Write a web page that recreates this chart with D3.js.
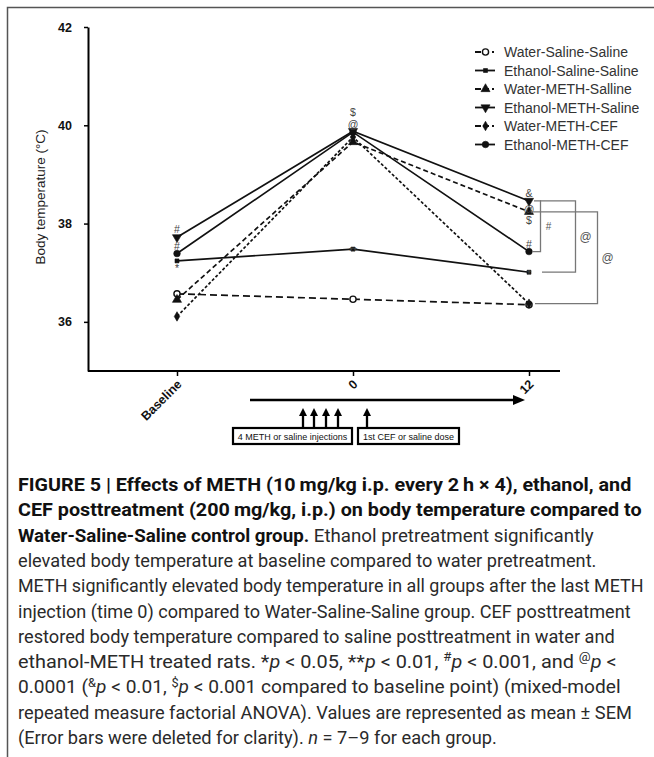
<html>
<head><meta charset="utf-8"></head>
<style>
  html, body { margin: 0; background: #fff; }
  svg { display: block; }
</style>
<body>
<div id="content"></div>
<script src="https://cdnjs.cloudflare.com/ajax/libs/d3/7.8.5/d3.min.js"></script>
<script>
  // time points on the x axis
  let times = ['Baseline', '0', '12'];

  // series names (legend order)
  let seriesNames = ['Water-Saline-Saline', 'Ethanol-Saline-Saline', 'Water-METH-Salline',
                     'Ethanol-METH-Saline', 'Water-METH-CEF', 'Ethanol-METH-CEF'];

  // body temperature (deg C) per time point
  let waterSalineSaline   = [36.57, 36.46, 36.35];
  let ethanolSalineSaline = [37.24, 37.48, 37.01];
  let waterMethSaline     = [36.45, 39.66, 38.24];
  let ethanolMethSaline   = [37.72, 39.88, 38.46];
  let waterMethCef        = [36.11, 39.76, 36.37];
  let ethanolMethCef      = [37.39, 39.86, 37.43];

  let yTicks = [36, 38, 40, 42];

  // significance marks: [time index, series index, label, where]
  let marks = [
    [0, 3, '#', 'above'], [0, 5, '#', 'above'], [0, 1, '*', 'below'],
    [1, 5, '@', 'above'], [1, 5, '$', 'above2'], [1, 1, '**', 'above'],
    [2, 3, '&', 'above'], [2, 2, '@', 'on'], [2, 2, '$', 'below'],
    [2, 5, '#', 'above'], [2, 1, '*', 'above']
  ];

  // brackets at the last time point: [series a, series b, label]
  let brackets = [[3, 5, '#'], [3, 1, '@'], [2, 4, '@']];

  let series = [waterSalineSaline, ethanolSalineSaline, waterMethSaline,
                ethanolMethSaline, waterMethCef, ethanolMethCef];

  // line/marker styles per series
  let dashes  = ['7,4', null, '5,3', null, '3,2', null];
  let symbols = [d3.symbolCircle, d3.symbolSquare, d3.symbolTriangle,
                 d3.symbolTriangle, d3.symbolDiamond, d3.symbolCircle];
  let symSize = [30, 16, 36, 36, 26, 34];

  let sans = '"Liberation Sans", Arial, Helvetica, sans-serif';

  let svg = d3.select('#content').append('svg')
      .attr('width', 654).attr('height', 757)
      .attr('font-family', sans);

  // frame (top and left edge of the figure panel)
  svg.append('path').attr('d', 'M7.5,757V7.5H654')
      .attr('fill', 'none').attr('stroke', '#555').attr('stroke-width', 1.5);

  let x = d3.scalePoint().domain(times).range([177, 529]);
  let y = d3.scaleLinear().domain([35, 42]).range([371, 27]);

  // y axis
  let yAxis = svg.append('g').attr('transform', 'translate(88,0)')
      .call(d3.axisLeft(y).tickValues(yTicks).tickFormat(d3.format('d'))
        .tickSize(4).tickSizeOuter(0).tickPadding(12));
  yAxis.attr('font-family', sans);
  yAxis.select('.domain').attr('stroke-width', 2);
  yAxis.selectAll('.tick line').attr('stroke-width', 1.5);
  yAxis.selectAll('text').attr('font-size', 12.5).attr('font-weight', 'bold').attr('fill', '#111');

  // x axis
  let xAxis = svg.append('g').attr('transform', 'translate(0,371)')
      .call(d3.axisBottom(x).tickSize(5).tickSizeOuter(0));
  xAxis.attr('font-family', sans);
  xAxis.select('.domain').attr('d', 'M88,0H560').attr('stroke-width', 2);
  xAxis.selectAll('.tick line').attr('stroke-width', 1.5);
  xAxis.selectAll('text')
      .attr('font-size', 12.5).attr('font-weight', 'bold').attr('fill', '#111')
      .attr('text-anchor', 'end')
      .attr('dy', null).attr('y', 0)
      .attr('transform', 'translate(5,14) rotate(-45)');

  // y axis title
  svg.append('text')
      .attr('transform', 'translate(45,197) rotate(-90)')
      .attr('text-anchor', 'middle')
      .attr('font-size', 13.5).attr('fill', '#222')
      .text('Body temperature (°C)');

  // lines
  let line = d3.line().x((d, i) => x(times[i])).y(d => y(d));
  series.forEach((s, k) => {
    svg.append('path').datum(s)
        .attr('d', line)
        .attr('fill', 'none').attr('stroke', '#111').attr('stroke-width', 1.7)
        .attr('stroke-dasharray', dashes[k]);
  });

  // markers
  function marker(g, k, cx, cy) {
    let rot = k === 3 ? 180 : 0;
    g.append('path')
        .attr('d', d3.symbol().type(symbols[k]).size(symSize[k])())
        .attr('transform', `translate(${cx},${cy}) rotate(${rot})`)
        .attr('fill', k === 0 ? '#fff' : '#111')
        .attr('stroke', '#111').attr('stroke-width', k === 0 ? 1.4 : 0.6);
  }
  series.forEach((s, k) => {
    s.forEach((v, i) => marker(svg, k, x(times[i]), y(v)));
  });

  // significance marks
  let off = {above: -4, above2: -16, on: 1, below: 12};
  marks.forEach(m => {
    let [ti, si, lab, pos] = m;
    let dy = off[pos];
    if (lab.indexOf('*') >= 0) dy += (pos === 'below' ? -1 : 10);
    svg.append('text')
        .attr('x', x(times[ti])).attr('y', y(series[si][ti]) + dy)
        .attr('text-anchor', 'middle').attr('font-size', 10.5).attr('fill', '#444')
        .text(lab);
  });

  // brackets
  let bx = [540.5, 575.5, 597.5];
  let bStart = [[534, 533], [540, 542], [531, 535]];
  brackets.forEach((b, j) => {
    let ya = y(series[b[0]][2]), yb = y(series[b[1]][2]);
    svg.append('path')
        .attr('d', `M${bStart[j][0]},${ya}H${bx[j]}V${yb}H${bStart[j][1]}`)
        .attr('fill', 'none').attr('stroke', '#777').attr('stroke-width', 1.3);
    svg.append('text')
        .attr('x', bx[j] + (j === 0 ? 8 : 10)).attr('y', (ya + yb) / 2 + 4)
        .attr('text-anchor', 'middle').attr('font-size', j === 0 ? 10 : 12).attr('fill', '#555')
        .text(b[2]);
  });

  // legend
  let legend = svg.append('g');
  seriesNames.forEach((name, k) => {
    let ly = 52 + k * 18.5;
    legend.append('line')
        .attr('x1', 475).attr('x2', 495).attr('y1', ly).attr('y2', ly)
        .attr('stroke', '#111').attr('stroke-width', 1.8)
        .attr('stroke-dasharray', dashes[k] ? '6,2,6,3,2' : null);
    marker(legend, k, 485.5, ly);
    legend.append('text')
        .attr('x', 504).attr('y', ly + 5)
        .attr('font-size', 14).attr('fill', '#333')
        .text(name);
  });

  // timeline under the x axis
  let tl = svg.append('g');
  tl.append('line').attr('x1', 250).attr('x2', 515).attr('y1', 400).attr('y2', 400)
      .attr('stroke', '#000').attr('stroke-width', 2.5);
  tl.append('path').attr('d', 'M513,395L525,400L513,405Z').attr('fill', '#000');
  [303, 314, 326, 338, 367].forEach(ax => {
    tl.append('line').attr('x1', ax).attr('x2', ax).attr('y1', 428).attr('y2', 414)
        .attr('stroke', '#000').attr('stroke-width', 2.3);
    tl.append('path').attr('d', `M${ax - 4},416L${ax},408L${ax + 4},416Z`).attr('fill', '#000');
  });
  [[233, 352, '4 METH or saline injections'], [358, 459, '1st CEF or saline dose']].forEach(bx => {
    tl.append('rect').attr('x', bx[0]).attr('y', 428).attr('width', bx[1] - bx[0]).attr('height', 16)
        .attr('fill', '#fff').attr('stroke', '#000').attr('stroke-width', 2.2);
    tl.append('text').attr('x', (bx[0] + bx[1]) / 2).attr('y', 439.5)
        .attr('text-anchor', 'middle').attr('font-size', 9).attr('fill', '#111')
        .text(bx[2]);
  });

  // caption: each line is a list of [text, style]
  let captionLines = [
    [['FIGURE 5 | Effects of METH (10\u2009mg/kg i.p. every 2\u2009h \u00d7 4), ethanol, and', 'b']],
    [['CEF posttreatment (200\u2009mg/kg, i.p.) on body temperature compared to', 'b']],
    [['Water-Saline-Saline control group.', 'b'], [' Ethanol pretreatment significantly', 'r']],
    [['elevated body temperature at baseline compared to water pretreatment.', 'r']],
    [['METH significantly elevated body temperature in all groups after the last METH', 'r']],
    [['injection (time 0) compared to Water-Saline-Saline group. CEF posttreatment', 'r']],
    [['restored body temperature compared to saline posttreatment in water and', 'r']],
    [['ethanol-METH treated rats. *', 'r'], ['p', 'i'], [' < 0.05, **', 'r'], ['p', 'i'],
     [' < 0.01, ', 'r'], ['#', 's'], ['p', 'i'], [' < 0.001, and ', 'r'], ['@', 's'], ['p', 'i'], [' <', 'r']],
    [['0.0001 (', 'r'], ['&', 's'], ['p', 'i'], [' < 0.01, ', 'r'], ['$', 's'], ['p', 'i'],
     [' < 0.001 compared to baseline point) (mixed-model', 'r']],
    [['repeated measure factorial ANOVA). Values are represented as mean \u00b1 SEM', 'r']],
    [['(Error bars were deleted for clarity). ', 'r'], ['n', 'i'], [' = 7\u20139 for each group.', 'r']]
  ];
  let captionWidths = [614, 624, 576, 579, 626, 613, 597, 599, 603, 614, 479];

  // draw at natural width, then squeeze horizontally to the line width of the figure
  captionLines.forEach((segs, i) => {
    let t = svg.append('text')
        .attr('x', 0).attr('y', 0)
        .attr('font-family', 'Roboto, "Liberation Sans", sans-serif')
        .attr('font-size', 18).attr('fill', '#2a2a2a');
    segs.forEach(sg => {
      let ts = t.append('tspan').text(sg[0]);
      if (sg[1] === 'b') ts.attr('font-weight', 'bold').attr('fill', '#111');
      if (sg[1] === 'i') ts.attr('font-style', 'italic');
      if (sg[1] === 's') ts.attr('font-size', 12).attr('baseline-shift', 'super');
    });
    let w = t.node().getComputedTextLength();
    let sx = captionWidths[i] / w;
    t.attr('transform', `translate(18,${491 + i * 25.3}) scale(${sx},1)`);
  });
</script>
</body>
</html>
